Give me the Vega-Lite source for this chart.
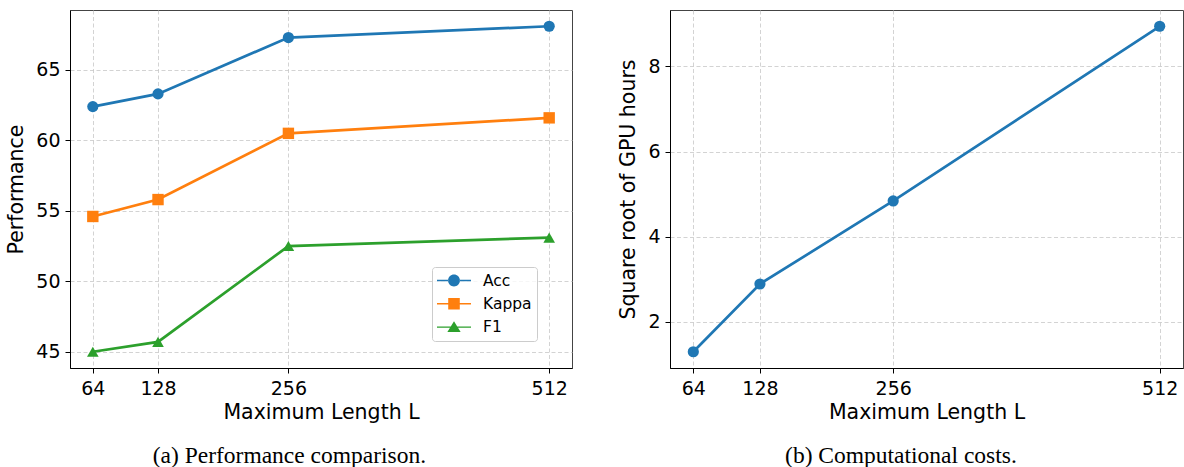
{
  "$schema": "https://vega.github.io/schema/vega-lite/v6.json",
  "autosize": {"type": "none"},
  "padding": {"left": 70, "top": 10, "right": 1114, "bottom": 457},
  "background": "white",
  "datasets": {
    "perf": [
      {"L": 64, "series": "Acc", "value": 62.4},
      {"L": 128, "series": "Acc", "value": 63.3},
      {"L": 256, "series": "Acc", "value": 67.3},
      {"L": 512, "series": "Acc", "value": 68.1},
      {"L": 64, "series": "Kappa", "value": 54.6},
      {"L": 128, "series": "Kappa", "value": 55.8},
      {"L": 256, "series": "Kappa", "value": 60.5},
      {"L": 512, "series": "Kappa", "value": 61.6},
      {"L": 64, "series": "F1", "value": 45.0},
      {"L": 128, "series": "F1", "value": 45.7},
      {"L": 256, "series": "F1", "value": 52.5},
      {"L": 512, "series": "F1", "value": 53.1}
    ],
    "cost": [
      {"L": 64, "hours": 1.30},
      {"L": 128, "hours": 2.89},
      {"L": 256, "hours": 4.84},
      {"L": 512, "hours": 8.94}
    ]
  },
  "bounds": "flush",
  "spacing": 98,
  "hconcat": [
    {
      "width": 502,
      "height": 358,
      "data": {"name": "perf"},
      "title": {"text": "(a) Performance comparison.", "orient": "bottom", "anchor": "middle", "frame": "bounds", "font": "Liberation Serif", "fontSize": 23.5, "fontWeight": "normal", "color": "black", "offset": 21},
      "resolve": {"scale": {"color": "independent", "shape": "independent"}},
      "encoding": {
        "x": {"field": "L", "type": "quantitative", "scale": {"domain": [41.6, 534.4], "nice": false, "zero": false},
          "axis": {"values": [64, 128, 256, 512], "title": "Maximum Length L"}},
        "y": {"field": "value", "type": "quantitative", "scale": {"domain": [43.845, 69.255], "nice": false, "zero": false},
          "axis": {"values": [45, 50, 55, 60, 65], "title": "Performance"}}
      },
      "layer": [
        {
          "mark": {"type": "line", "strokeWidth": 2.7},
          "encoding": {
            "color": {"field": "series", "type": "nominal", "scale": {"domain": ["Acc", "Kappa", "F1"], "range": ["#1f77b4", "#ff7f0e", "#2ca02c"]}, "legend": null},
            "detail": {"field": "series"}
          }
        },
        {
          "mark": {"type": "point", "filled": true, "opacity": 1},
          "encoding": {
            "color": {"field": "series", "type": "nominal", "scale": {"domain": ["Acc", "Kappa", "F1"], "range": ["#1f77b4", "#ff7f0e", "#2ca02c"]}, "legend": null},
            "shape": {"field": "series", "type": "nominal", "scale": {"domain": ["Acc", "Kappa", "F1"], "range": ["circle", "square", "triangle-up"]}, "legend": null},
            "size": {"field": "series", "type": "nominal", "scale": {"domain": ["Acc", "Kappa", "F1"], "range": [125, 135, 150]}, "legend": null}
          }
        },
        {
          "transform": [{"filter": "datum.value < 0"}],
          "mark": {"type": "point", "filled": true, "opacity": 1},
          "encoding": {
            "color": {"field": "series", "type": "nominal", "scale": {"domain": ["Acc", "Kappa", "F1"], "range": ["#1f77b4", "#ff7f0e", "#2ca02c"]},
              "legend": {"title": null, "orient": "none", "legendX": 362, "legendY": 257, "symbolSize": 289, "labelOffset": 29, "padding": 5, "rowPadding": 6.3,
                "labelFont": "DejaVu Sans", "labelFontSize": 15.5, "labelColor": "black", "fillColor": "rgba(255,255,255,0.8)", "strokeColor": "#cccccc", "cornerRadius": 3, "symbolOpacity": 1, "symbolStrokeWidth": 0}},
            "shape": {"field": "series", "type": "nominal", "scale": {"domain": ["Acc", "Kappa", "F1"], "range": [
              "M-1,-0.08H0.32V0.08H-1Z M1.68,-0.08H3V0.08H1.68Z M0.3,0A0.7,0.7 0 1,0 1.7,0A0.7,0.7 0 1,0 0.3,0Z",
              "M-1,-0.08H0.32V0.08H-1Z M1.68,-0.08H3V0.08H1.68Z M0.32,-0.68H1.68V0.68H0.32Z",
              "M-1,-0.08H0.62V0.08H-1Z M1.38,-0.08H3V0.08H1.38Z M1,-0.7L1.78,0.58H0.22Z"
            ]},
              "legend": {"title": null, "orient": "none", "legendX": 362, "legendY": 257, "symbolSize": 289, "labelOffset": 29, "padding": 5, "rowPadding": 6.3,
                "labelFont": "DejaVu Sans", "labelFontSize": 15.5, "labelColor": "black", "fillColor": "rgba(255,255,255,0.8)", "strokeColor": "#cccccc", "cornerRadius": 3, "symbolOpacity": 1, "symbolStrokeWidth": 0}}
          }
        }
      ]
    },
    {
      "width": 513,
      "height": 358,
      "data": {"name": "cost"},
      "title": {"text": "(b) Computational costs.", "orient": "bottom", "anchor": "middle", "frame": "bounds", "font": "Liberation Serif", "fontSize": 23.5, "fontWeight": "normal", "color": "black", "offset": 21},
      "encoding": {
        "x": {"field": "L", "type": "quantitative", "scale": {"domain": [41.6, 534.4], "nice": false, "zero": false},
          "axis": {"values": [64, 128, 256, 512], "title": "Maximum Length L"}},
        "y": {"field": "hours", "type": "quantitative", "scale": {"domain": [0.918, 9.322], "nice": false, "zero": false},
          "axis": {"values": [2, 4, 6, 8], "title": "Square root of GPU hours"}}
      },
      "layer": [
        {"mark": {"type": "line", "strokeWidth": 2.7, "color": "#1f77b4"}},
        {"mark": {"type": "point", "filled": true, "opacity": 1, "size": 125, "color": "#1f77b4"}}
      ]
    }
  ],
  "config": {
    "view": {"stroke": "#444", "strokeWidth": 1},
    "axis": {
      "labelFont": "DejaVu Sans", "labelFontSize": 19, "labelColor": "black",
      "titleFont": "DejaVu Sans", "titleFontSize": 20.5, "titleFontWeight": "normal", "titleColor": "black",
      "domainColor": "black", "domainWidth": 1, "tickColor": "black", "tickSize": 5, "tickWidth": 1,
      "gridColor": "#c8c8c8", "gridDash": [4, 2.5], "gridWidth": 0.8, "labelFlush": false, "labelOverlap": false
    },
    "axisX": {"labelPadding": 6, "titlePadding": 4},
    "axisY": {"labelPadding": 5, "titlePadding": 9}
  }
}
